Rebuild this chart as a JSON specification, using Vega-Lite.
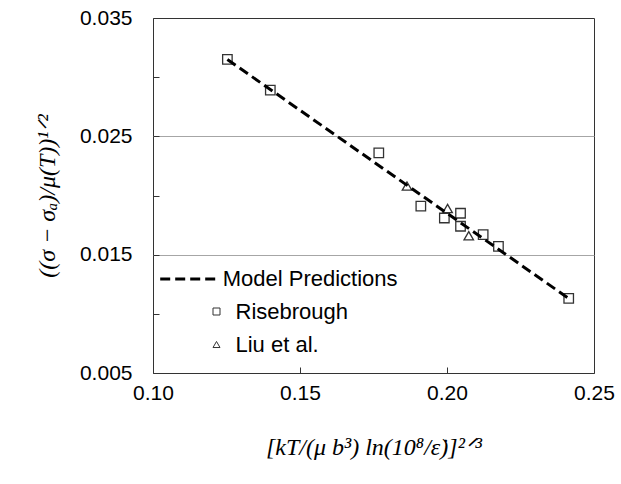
{
  "$schema": "https://vega.github.io/schema/vega-lite/v6.json",
  "width": 441,
  "height": 355,
  "autosize": {"type": "none"},
  "padding": {"left": 153, "top": 18, "right": 27, "bottom": 111},
  "background": "white",
  "config": {
    "view": {"stroke": "#333333", "strokeWidth": 1},
    "font": "Liberation Sans"
  },
  "datasets": {
    "model": [
      {"x": 0.1253, "y": 0.0315, "series": "Model Predictions"},
      {"x": 0.2414, "y": 0.0113, "series": "Model Predictions"}
    ],
    "exp": [
      {"x": 0.1253, "y": 0.0315, "series": "Risebrough"},
      {"x": 0.1399, "y": 0.0289, "series": "Risebrough"},
      {"x": 0.1768, "y": 0.0236, "series": "Risebrough"},
      {"x": 0.1911, "y": 0.0191, "series": "Risebrough"},
      {"x": 0.1991, "y": 0.0181, "series": "Risebrough"},
      {"x": 0.2046, "y": 0.0185, "series": "Risebrough"},
      {"x": 0.2046, "y": 0.0174, "series": "Risebrough"},
      {"x": 0.2123, "y": 0.0167, "series": "Risebrough"},
      {"x": 0.2175, "y": 0.0157, "series": "Risebrough"},
      {"x": 0.2414, "y": 0.0113, "series": "Risebrough"},
      {"x": 0.1864, "y": 0.0208, "series": "Liu et al."},
      {"x": 0.2002, "y": 0.0189, "series": "Liu et al."},
      {"x": 0.2074, "y": 0.0166, "series": "Liu et al."}
    ]
  },
  "encoding": {
    "x": {
      "field": "x", "type": "quantitative",
      "scale": {"domain": [0.1, 0.25], "nice": false, "zero": false},
      "axis": {
        "title": "[kT/(μ b³) ln(10⁸/ε̇)]²ᐟ³",
        "values": [0.1, 0.15, 0.2, 0.25],
        "format": ".2f",
        "grid": false,
        "domain": false,
        "tickSize": -6,
        "tickColor": "#333333",
        "labelPadding": 15,
        "labelFlush": false,
        "labelOverlap": false,
        "labelFontSize": 21,
        "labelColor": "black",
        "titleFont": "Liberation Serif",
        "titleFontStyle": "italic",
        "titleFontWeight": "normal",
        "titleFontSize": 24,
        "titleColor": "black",
        "titlePadding": 32
      }
    },
    "y": {
      "field": "y", "type": "quantitative",
      "scale": {"domain": [0.005, 0.035], "nice": false, "zero": false},
      "axis": {
        "title": "((σ − σₐ)/μ(T))¹ᐟ²",
        "values": [0.005, 0.01, 0.015, 0.02, 0.025, 0.03, 0.035],
        "labelExpr": "(abs(datum.value - 0.005) < 0.001 || abs(datum.value - 0.015) < 0.001 || abs(datum.value - 0.025) < 0.001 || abs(datum.value - 0.035) < 0.001) ? format(datum.value, '.3f') : ''",
        "grid": true,
        "gridColor": "#a6a6a6",
        "gridWidth": 1,
        "gridOpacity": {"condition": {"test": "abs(datum.value - 0.015) < 0.001 || abs(datum.value - 0.025) < 0.001", "value": 1}, "value": 0},
        "domain": false,
        "tickSize": -6,
        "tickColor": "#333333",
        "labelPadding": 27,
        "labelOverlap": false,
        "labelFlush": false,
        "labelFontSize": 21,
        "labelColor": "black",
        "titleFont": "Liberation Serif",
        "titleFontStyle": "italic",
        "titleFontWeight": "normal",
        "titleFontSize": 24,
        "titleColor": "black",
        "titlePadding": 20
      }
    }
  },
  "layer": [
    {
      "data": {"name": "exp"},
      "mark": {"type": "point", "filled": false, "color": "#333333", "strokeWidth": 1.3, "size": 90, "opacity": 1},
      "encoding": {
        "shape": {
          "field": "series", "type": "nominal",
          "scale": {"domain": ["Risebrough", "Liu et al."], "range": ["square", "triangle-up"]},
          "legend": {
            "orient": "none",
            "legendX": 52.5,
            "legendY": 282.5,
            "title": null,
            "padding": 0,
            "symbolSize": 49,
            "symbolStrokeWidth": 1,
            "symbolStrokeColor": "#333333",
            "symbolFillColor": "white",
            "labelFontSize": 22,
            "labelColor": "black",
            "labelOffset": 8,
            "labelLimit": 0,
            "rowPadding": 11
          }
        }
      }
    },
    {
      "data": {"name": "model"},
      "mark": {"type": "line", "color": "black", "strokeWidth": 3},
      "encoding": {
        "strokeDash": {
          "field": "series", "type": "nominal",
          "scale": {"domain": ["Model Predictions"], "range": [[10, 5]]},
          "legend": {
            "orient": "none",
            "legendX": 5.7,
            "legendY": 232,
            "title": null,
            "padding": 0,
            "symbolType": "stroke",
            "symbolSize": 3025,
            "symbolStrokeWidth": 3,
            "symbolStrokeColor": "black",
            "labelFontSize": 22,
            "labelColor": "black",
            "labelOffset": 6,
            "labelLimit": 0
          }
        }
      }
    }
  ]
}
